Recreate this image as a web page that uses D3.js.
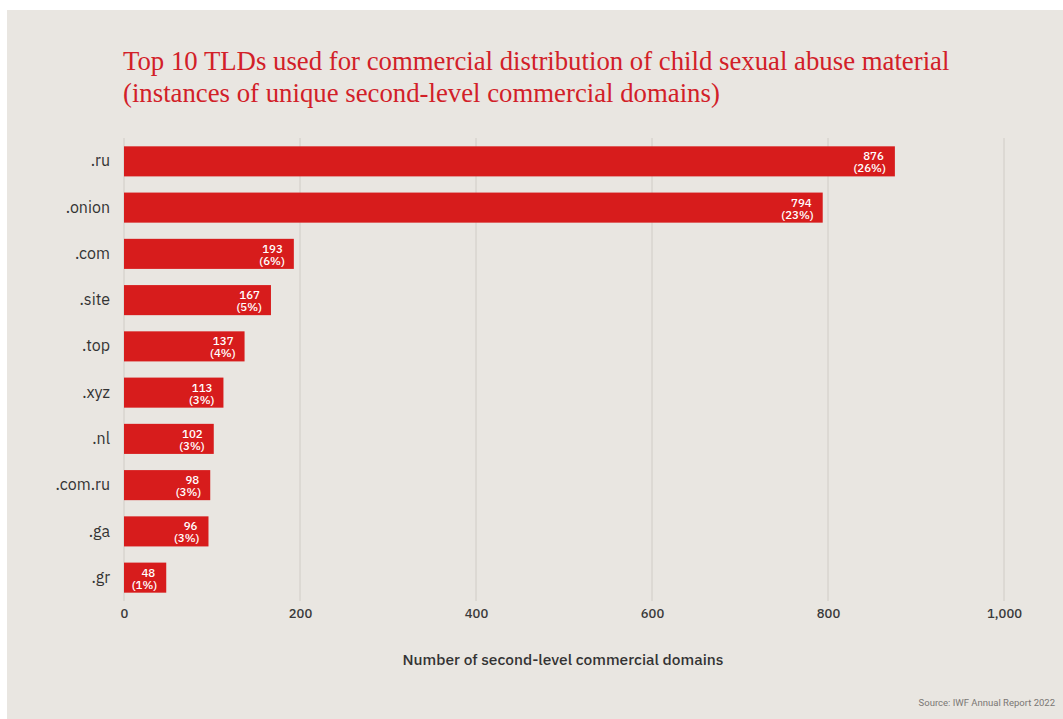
<!DOCTYPE html>
<html>
<head>
<meta charset="utf-8">
<script src="https://cdn.jsdelivr.net/npm/d3@7"></script>
<style>
  html, body { margin: 0; padding: 0; background: #ffffff; }
  svg { display: block; }
</style>
</head>
<body>
<svg id="chart" width="1063" height="719"></svg>
<script>
// Top-level domains and counts of unique second-level commercial domains
const tlds = [".ru", ".onion", ".com", ".site", ".top", ".xyz", ".nl", ".com.ru", ".ga", ".gr"];
const counts = [876, 794, 193, 167, 137, 113, 102, 98, 96, 48];
const shares = [26, 23, 6, 5, 4, 3, 3, 3, 3, 1];
const xTicks = [0, 200, 400, 600, 800, 1000];

const titleLines = [
  "Top 10 TLDs used for commercial distribution of child sexual abuse material",
  "(instances of unique second-level commercial domains)"
];
const axisTitle = "Number of second-level commercial domains";
const sourceNote = "Source: IWF Annual Report 2022";

const W = 1063, H = 719;
const svg = d3.select("#chart");

// panel background
svg.append("rect")
  .attr("x", 7).attr("y", 10)
  .attr("width", W - 7).attr("height", H - 10)
  .attr("fill", "#e9e6e1");

const plotTop = 138, plotBottom = 601;

const x = d3.scaleLinear().domain([0, 1000]).range([124, 1004]);
const y = d3.scaleBand().domain(tlds).range([138, 601]).paddingInner(0.35).paddingOuter(0.18);

// title
const title = svg.append("g");
titleLines.forEach((t, i) => {
  title.append("text")
    .attr("x", 123)
    .attr("y", 70 + i * 32)
    .attr("fill", "#d22028")
    .style("font-family", "'Liberation Serif', 'DejaVu Serif', serif")
    .style("font-size", "26px")
    .text(t);
});
// fit first title line to its width
(function fitTitle() {
  const first = title.select("text").node();
  const w = first.getComputedTextLength();
  const target = 827;
  const fs = 26 * target / w;
  title.selectAll("text").style("font-size", fs + "px");
})();

// gridlines
svg.append("g")
  .selectAll("line")
  .data(xTicks)
  .join("line")
  .attr("x1", d => x(d)).attr("x2", d => x(d))
  .attr("y1", plotTop).attr("y2", plotBottom)
  .attr("stroke", "#d0ccc6")
  .attr("stroke-width", 1);

// x axis tick labels
const xAxis = d3.axisBottom(x)
  .tickValues(xTicks)
  .tickSize(0)
  .tickPadding(0)
  .tickFormat(d3.format(","));
const gx = svg.append("g")
  .attr("transform", `translate(0, ${plotBottom + 8})`)
  .call(xAxis);
gx.select(".domain").remove();
gx.selectAll("text")
  .attr("fill", "#3a3a3a")
  .style("font-family", "'IBM Plex Sans', 'Noto Sans', sans-serif")
  .style("font-size", "13px")
  .style("font-weight", "500");

// y axis category labels
const yAxis = d3.axisLeft(y).tickSize(0).tickPadding(14);
const gy = svg.append("g")
  .attr("transform", `translate(${x(0)}, 0)`)
  .call(yAxis);
gy.select(".domain").remove();
gy.selectAll("text")
  .attr("fill", "#333333")
  .style("font-family", "'IBM Plex Sans', 'Noto Sans', sans-serif")
  .style("font-size", "16px");

// bars
const rows = tlds.map((t, i) => ({ tld: t, count: counts[i], share: shares[i] }));
svg.append("g")
  .selectAll("rect")
  .data(rows)
  .join("rect")
  .attr("x", x(0))
  .attr("y", d => y(d.tld))
  .attr("width", d => x(d.count) - x(0))
  .attr("height", y.bandwidth())
  .attr("fill", "#d71c1c");

// value labels inside bar ends
const lbl = svg.append("g")
  .selectAll("text")
  .data(rows)
  .join("text")
  .attr("text-anchor", "end")
  .attr("fill", "#ffffff")
  .style("font-family", "'IBM Plex Sans', 'Noto Sans', sans-serif")
  .style("font-size", "11.5px")
  .style("font-weight", "500");
lbl.append("tspan")
  .attr("x", d => x(d.count) - 11)
  .attr("y", d => y(d.tld) + y.bandwidth() / 2 - 1)
  .text(d => d3.format(",")(d.count));
lbl.append("tspan")
  .attr("x", d => x(d.count) - 9)
  .attr("y", d => y(d.tld) + y.bandwidth() / 2 + 11)
  .text(d => `(${d.share}%)`);

// axis title
svg.append("text")
  .attr("x", 563)
  .attr("y", 665)
  .attr("text-anchor", "middle")
  .attr("fill", "#333333")
  .style("font-family", "'IBM Plex Sans', 'Noto Sans', sans-serif")
  .style("font-size", "15.5px")
  .style("font-weight", "500")
  .text(axisTitle);

// source
svg.append("text")
  .attr("x", 1055)
  .attr("y", 706)
  .attr("text-anchor", "end")
  .attr("fill", "#7a7774")
  .style("font-family", "'Liberation Sans Narrow', 'Roboto', sans-serif")
  .style("font-size", "9.5px")
  .text(sourceNote);
</script>
</body>
</html>
